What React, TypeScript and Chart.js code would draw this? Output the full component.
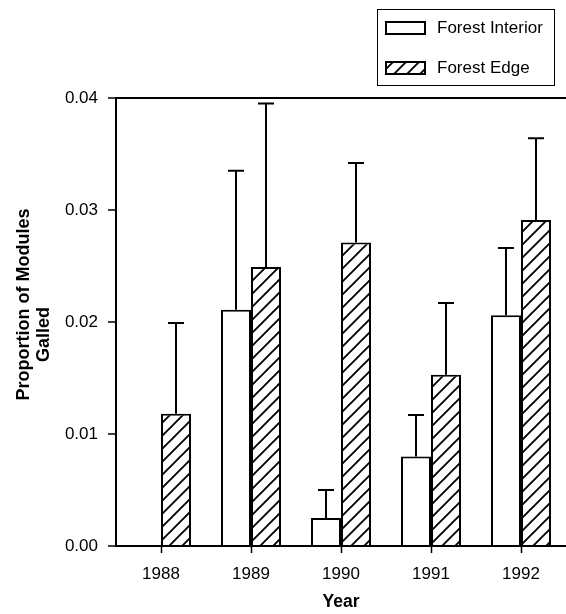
import React, { useEffect, useRef } from 'react';
import { Chart, registerables } from 'chart.js';

Chart.register(...registerables);

const years = ['1988', '1989', '1990', '1991', '1992'];
const interiorMeans: (number | null)[] = [null, 0.0211, 0.0025, 0.0080, 0.0206];
const interiorSE: (number | null)[] = [null, 0.0124, 0.0025, 0.0037, 0.0060];
const edgeMeans: (number | null)[] = [0.0118, 0.0249, 0.0271, 0.0153, 0.0291];
const edgeSE: (number | null)[] = [0.0081, 0.0146, 0.0071, 0.0064, 0.0073];
const seriesNames = ['Forest Interior', 'Forest Edge'];
const yTitle = ['       Proportion of Modules', 'Galled     '];
const xTitle = 'Year';

const FONT = "'Liberation Sans', Arial, Helvetica, sans-serif";

function makeHatch(): CanvasPattern | string {
  const s = 13;
  const c = document.createElement('canvas');
  c.width = s;
  c.height = s;
  const g = c.getContext('2d');
  if (!g) return '#fff';
  g.fillStyle = '#fff';
  g.fillRect(0, 0, s, s);
  g.strokeStyle = '#000';
  g.lineWidth = 1.9;
  g.beginPath();
  g.moveTo(-1, s + 1);
  g.lineTo(s + 1, -1);
  g.moveTo(-s / 2 - 1, s / 2 + 1);
  g.lineTo(s / 2 + 1, -s / 2 - 1);
  g.moveTo(s / 2 - 1, s * 1.5 + 1);
  g.lineTo(s * 1.5 + 1, s / 2 - 1);
  g.stroke();
  return g.createPattern(c, 'repeat') || '#fff';
}

export default function App() {
  const ref = useRef<HTMLCanvasElement | null>(null);

  useEffect(() => {
    const canvas = ref.current;
    if (!canvas) return;
    const hatch = makeHatch();
    const seList = [interiorSE, edgeSE];

    const errorBars = {
      id: 'errorBars',
      afterDatasetsDraw(chart: any) {
        const { ctx } = chart;
        const y = chart.scales.y;
        ctx.save();
        ctx.strokeStyle = '#000';
        ctx.lineWidth = 2;
        chart.data.datasets.forEach((ds: any, di: number) => {
          const meta = chart.getDatasetMeta(di);
          const se = seList[di];
          meta.data.forEach((bar: any, i: number) => {
            const v = ds.data[i];
            const e = se[i];
            if (v == null || e == null) return;
            const x = bar.x;
            const yb = y.getPixelForValue(v);
            const yt = y.getPixelForValue(v + e);
            ctx.beginPath();
            ctx.moveTo(x, yb);
            ctx.lineTo(x, yt);
            ctx.moveTo(x - 8, yt);
            ctx.lineTo(x + 8, yt);
            ctx.stroke();
          });
        });
        ctx.restore();
      },
    };

    const legendBox = {
      id: 'legendBox',
      afterDraw(chart: any) {
        const { ctx } = chart;
        ctx.save();
        ctx.strokeStyle = '#000';
        ctx.lineWidth = 1;
        ctx.strokeRect(377.5, 9.5, 177, 76);
        const fills = [chart.data.datasets[0].backgroundColor, chart.data.datasets[1].backgroundColor];
        const rows = [22, 62];
        ctx.font = `17px ${FONT}`;
        ctx.textBaseline = 'middle';
        ctx.textAlign = 'left';
        rows.forEach((ry, k) => {
          ctx.fillStyle = fills[k];
          ctx.fillRect(386, ry, 39, 12);
          ctx.lineWidth = 2;
          ctx.strokeRect(386, ry, 39, 12);
          ctx.fillStyle = '#000';
          ctx.fillText(seriesNames[k], 437, ry + 6.5);
        });
        ctx.restore();
      },
    };

    const chart = new Chart(canvas, {
      type: 'bar',
      data: {
        labels: years,
        datasets: [
          {
            label: seriesNames[0],
            data: interiorMeans,
            backgroundColor: '#ffffff',
            borderColor: '#000',
            borderWidth: 2,
            barPercentage: 1,
            categoryPercentage: 0.667,
          },
          {
            label: seriesNames[1],
            data: edgeMeans,
            backgroundColor: hatch as any,
            borderColor: '#000',
            borderWidth: 2,
            barPercentage: 1,
            categoryPercentage: 0.667,
          },
        ],
      },
      options: {
        animation: false,
        responsive: false,
        maintainAspectRatio: false,
        layout: { padding: { top: 98, right: 0, left: 0, bottom: 0 } },
        plugins: {
          legend: { display: false },
          tooltip: { enabled: false },
        },
        scales: {
          x: {
            offset: true,
            afterFit(scale: any) {
              scale.height = 68;
            },
            grid: {
              offset: false,
              drawOnChartArea: false,
              drawTicks: true,
              tickLength: 7,
              color: '#000',
              tickColor: '#000',
              tickWidth: 1.5,
            },
            border: { display: true, color: '#000', width: 2 },
            ticks: {
              color: '#000',
              padding: 11,
              font: { family: FONT, size: 17 },
              maxRotation: 0,
            },
            title: {
              display: true,
              text: xTitle,
              color: '#000',
              font: { family: FONT, size: 17.5, weight: 'bold' },
              padding: { top: 0, bottom: 1 },
            },
          },
          y: {
            min: 0,
            max: 0.04,
            afterFit(scale: any) {
              scale.width = 116;
            },
            grid: {
              drawOnChartArea: true,
              color: (c: any) => (c.tick && Math.abs(c.tick.value - 0.04) < 1e-9 ? '#000' : 'rgba(0,0,0,0)'),
              lineWidth: 2,
              tickColor: '#000',
              tickWidth: 1.5,
              tickLength: 8,
            },
            border: { display: true, color: '#000', width: 2 },
            ticks: {
              stepSize: 0.01,
              color: '#000',
              padding: 10,
              font: { family: FONT, size: 17 },
              callback: (v: any) => Number(v).toFixed(2),
            },
            title: {
              display: true,
              text: yTitle,
              color: '#000',
              font: { family: FONT, size: 18, weight: 'bold', lineHeight: 1.1 },
              padding: { top: 14, bottom: 0 },
            },
          },
        },
      },
      plugins: [errorBars, legendBox],
    });

    return () => {
      chart.destroy();
    };
  }, []);

  return (
    <div style={{ position: 'fixed', left: 0, top: 0, width: 566, height: 614, background: '#fff' }}>
      <canvas ref={ref} width={566} height={614} style={{ display: 'block', width: 566, height: 614 }} />
    </div>
  );
}
